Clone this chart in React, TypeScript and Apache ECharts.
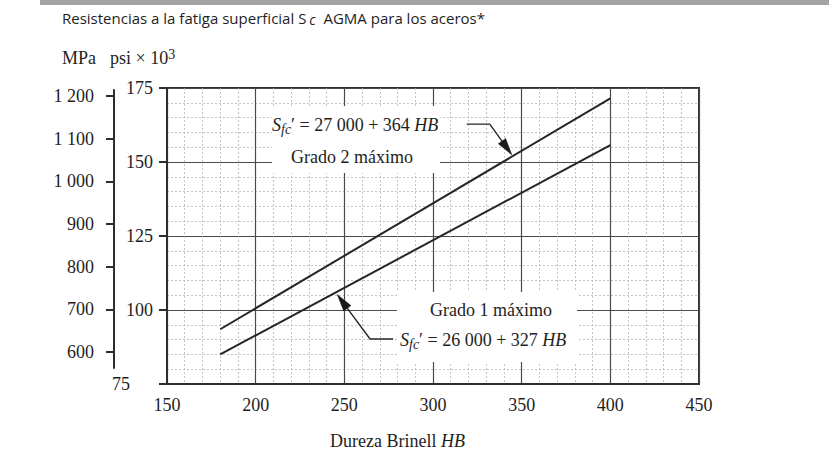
import React, { useEffect, useRef } from 'react';
import * as echarts from 'echarts';

// ---- data ----
const hbMin = 150;
const hbMax = 450;
const hbInterval = 50;
const ksiMin = 75;
const ksiMax = 175;
const ksiInterval = 25;
const mpaMin = 562.5;
const mpaMax = 1214;
const mpaTicks = [600, 700, 800, 900, 1000, 1100, 1200];
const hbPoints = [180, 400];
const grado2Ksi = [93.5, 171.5];
const grado1Ksi = [85.0, 155.7];
// leader lines: start, bend, arrow tip (HB, ksi)
const grado2Leader = [319, 162.8, 332, 162.8, 344.5, 152.4];
const grado1Leader = [277.5, 90.2, 264.5, 90.2, 246, 105.2];

const titleText = 'Resistencias a la fatiga superficial {s|S}{c|c}  AGMA para los aceros*';
const unitMpa = 'MPa';
const unitPsi = 'psi × 10{sup|3}';
const xTitle = 'Dureza Brinell {i|HB}';
const grado2Label = 'Grado 2 máximo';
const grado1Label = 'Grado 1 máximo';
const grado2Formula = '{i|S}{sub|fc}{n|′ = 27 000 + 364 }{i|HB}';
const grado1Formula = '{i|S}{sub|fc}{n|′ = 26 000 + 327 }{i|HB}';

const SERIF = "'Liberation Serif', 'DejaVu Serif', serif";
const SANS = "'Open Sans', 'Noto Sans', sans-serif";
const INK = '#1e1e1e';
const LINE = '#262626';
const FS = 18;

const formulaRich = {
  i: { fontFamily: SERIF, fontStyle: 'italic', fontSize: FS, fill: INK, lineHeight: 22 },
  n: { fontFamily: SERIF, fontSize: FS, fill: INK, lineHeight: 22 },
  sub: { fontFamily: SERIF, fontStyle: 'italic', fontSize: 14, fill: INK, lineHeight: 14, padding: [8, 0, 0, 0] },
};

function fmtMpa(v: number) {
  if (v >= 1000) {
    const t = Math.floor(v / 1000);
    const r = String(v % 1000).padStart(3, '0');
    return `${t} ${r}`;
  }
  return String(v);
}

function leaderRender(params: any, api: any) {
  const p1 = api.coord([api.value(0), api.value(1)]);
  const p2 = api.coord([api.value(2), api.value(3)]);
  const p3 = api.coord([api.value(4), api.value(5)]);
  const dx = p3[0] - p2[0];
  const dy = p3[1] - p2[1];
  const len = Math.hypot(dx, dy) || 1;
  const ux = dx / len;
  const uy = dy / len;
  const L = 17;
  const W = 4.5;
  const bx = p3[0] - ux * L;
  const by = p3[1] - uy * L;
  const a = [bx - uy * W, by + ux * W];
  const b = [bx + uy * W, by - ux * W];
  return {
    type: 'group',
    children: [
      {
        type: 'polyline',
        shape: { points: [p1, p2, [bx + ux * 4, by + uy * 4]] },
        style: { stroke: LINE, lineWidth: 1.4, fill: null },
      },
      {
        type: 'polygon',
        shape: { points: [p3, a, b] },
        style: { fill: '#1a1a1a', stroke: '#1a1a1a', lineWidth: 0.5 },
      },
    ],
  };
}

function buildOption(): any {
  return {
    animation: false,
    backgroundColor: '#ffffff',
    grid: [
      {
        left: 167,
        top: 88,
        width: 532,
        height: 296,
        show: true,
        borderColor: '#2e2e2e',
        borderWidth: 2,
        backgroundColor: 'transparent',
      },
      { left: 114, top: 90, width: 1, height: 278 },
    ],
    xAxis: [
      {
        gridIndex: 0,
        type: 'value',
        min: hbMin,
        max: hbMax,
        interval: hbInterval,
        axisLine: { show: true, lineStyle: { color: '#2e2e2e', width: 2 } },
        axisTick: { show: false },
        axisLabel: { fontFamily: SERIF, fontSize: FS, color: INK, margin: 12 },
        splitLine: { show: true, lineStyle: { color: '#4a4a4a', width: 1.2 } },
        minorTick: { show: false, splitNumber: 5 },
        minorSplitLine: { show: true, lineStyle: { color: '#b4b4b4', width: 0.8, type: [2, 2] } },
      },
      { gridIndex: 1, type: 'value', min: 0, max: 1, show: false },
    ],
    yAxis: [
      {
        gridIndex: 0,
        type: 'value',
        min: ksiMin,
        max: ksiMax,
        interval: ksiInterval,
        axisLine: { show: true, lineStyle: { color: '#2e2e2e', width: 2 } },
        axisTick: { show: true, inside: false, length: 8, lineStyle: { color: '#2e2e2e', width: 2 } },
        axisLabel: {
          fontFamily: SERIF,
          fontSize: FS,
          color: INK,
          margin: 14,
          formatter: (v: number) => (v === ksiMin ? `{f|${v}}` : `${v}`),
          rich: { f: { fontFamily: SERIF, fontSize: FS, color: INK, padding: [0, 23, 0, 0] } },
        },
        splitLine: { show: true, lineStyle: { color: '#4a4a4a', width: 1.2 } },
        minorTick: { show: false, splitNumber: 5 },
        minorSplitLine: { show: true, lineStyle: { color: '#b4b4b4', width: 0.8, type: [2, 2] } },
      },
      {
        gridIndex: 1,
        type: 'value',
        min: mpaMin,
        max: mpaMax,
        axisLine: { show: true, lineStyle: { color: '#2e2e2e', width: 2 } },
        axisTick: { show: true, inside: false, length: 8, customValues: mpaTicks, lineStyle: { color: '#2e2e2e', width: 2 } },
        axisLabel: {
          fontFamily: SERIF,
          fontSize: FS,
          color: INK,
          margin: 20,
          customValues: mpaTicks,
          formatter: (v: number) => fmtMpa(v),
        },
        splitLine: { show: false },
      },
    ],
    series: [
      {
        type: 'line',
        xAxisIndex: 0,
        yAxisIndex: 0,
        data: hbPoints.map((x, i) => [x, grado2Ksi[i]]),
        symbol: 'none',
        lineStyle: { color: LINE, width: 2 },
        z: 5,
      },
      {
        type: 'line',
        xAxisIndex: 0,
        yAxisIndex: 0,
        data: hbPoints.map((x, i) => [x, grado1Ksi[i]]),
        symbol: 'none',
        lineStyle: { color: LINE, width: 2 },
        z: 5,
      },
      {
        type: 'custom',
        xAxisIndex: 0,
        yAxisIndex: 0,
        renderItem: leaderRender,
        data: [grado2Leader, grado1Leader],
        z: 6,
        silent: true,
      },
    ],
    graphic: [
      { type: 'rect', shape: { x: 40, y: 0, width: 789, height: 5 }, style: { fill: '#a4a4a4' }, z: 1 },
      {
        type: 'text',
        x: 62,
        y: 18,
        style: {
          text: titleText,
          font: `15px ${SANS}`,
          fill: INK,
          verticalAlign: 'middle',
          rich: {
            s: { fontFamily: SANS, fontSize: 15, fill: INK },
            c: { fontFamily: SANS, fontStyle: 'italic', fontSize: 14, fill: INK, padding: [3, 0, 0, 3] },
          },
        },
        z: 100,
      },
      {
        type: 'text',
        x: 62,
        y: 58,
        style: { text: unitMpa, font: `${FS}px ${SERIF}`, fill: INK, verticalAlign: 'middle' },
        z: 100,
      },
      {
        type: 'text',
        x: 110,
        y: 58,
        style: {
          text: unitPsi,
          font: `${FS}px ${SERIF}`,
          fill: INK,
          verticalAlign: 'middle',
          rich: { sup: { fontFamily: SERIF, fontSize: 14, fill: INK, padding: [0, 0, 8, 0] } },
        },
        z: 100,
      },
      {
        type: 'text',
        x: 330,
        y: 441,
        style: {
          text: xTitle,
          font: `${FS}px ${SERIF}`,
          fill: INK,
          verticalAlign: 'middle',
          rich: { i: { fontFamily: SERIF, fontStyle: 'italic', fontSize: FS, fill: INK } },
        },
        z: 100,
      },
      { type: 'rect', shape: { x: 272, y: 106, width: 168, height: 67 }, style: { fill: '#ffffff' }, z: 50 },
      { type: 'rect', shape: { x: 397, y: 292, width: 180, height: 70 }, style: { fill: '#ffffff' }, z: 50 },
      {
        type: 'text',
        x: 272,
        y: 125,
        style: { text: grado2Formula, fill: INK, verticalAlign: 'middle', rich: formulaRich },
        z: 100,
      },
      {
        type: 'text',
        x: 291,
        y: 157,
        style: { text: grado2Label, font: `${FS}px ${SERIF}`, fill: INK, verticalAlign: 'middle' },
        z: 100,
      },
      {
        type: 'text',
        x: 430,
        y: 310,
        style: { text: grado1Label, font: `${FS}px ${SERIF}`, fill: INK, verticalAlign: 'middle' },
        z: 100,
      },
      {
        type: 'text',
        x: 400,
        y: 340,
        style: { text: grado1Formula, fill: INK, verticalAlign: 'middle', rich: formulaRich },
        z: 100,
      },
    ],
  };
}

export default function App() {
  const ref = useRef<HTMLDivElement>(null);
  useEffect(() => {
    if (!ref.current) return;
    const chart = echarts.init(ref.current, null, { renderer: 'svg' });
    chart.setOption(buildOption());
    return () => chart.dispose();
  }, []);
  return (
    <div
      ref={ref}
      style={{ position: 'absolute', left: 0, top: 0, width: 829, height: 469, background: '#ffffff' }}
    />
  );
}
